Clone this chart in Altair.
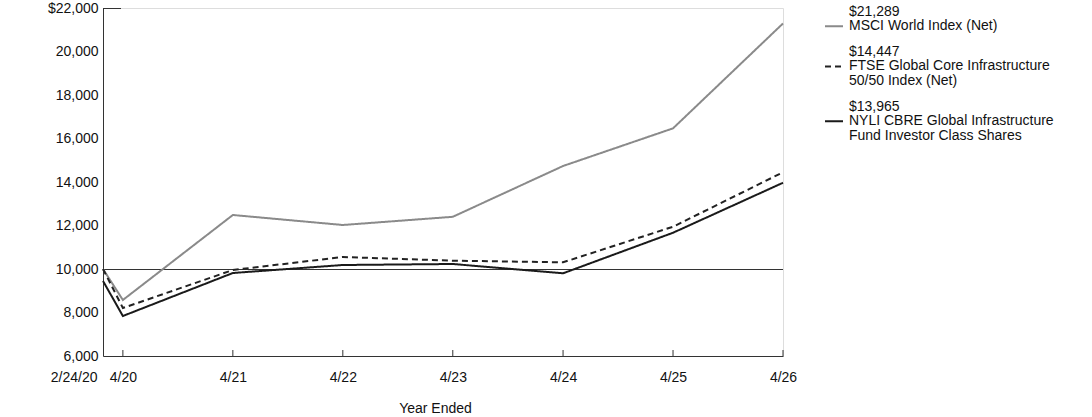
import altair as alt
import pandas as pd

# ---- data ----
dates = ["2020-02-24", "2020-04-30", "2021-04-30", "2022-04-30",
         "2023-04-30", "2024-04-30", "2025-04-30", "2026-04-30"]
tick_labels = ["2/24/20", "4/20", "4/21", "4/22", "4/23", "4/24", "4/25", "4/26"]

msci = [10000, 8575, 12483, 12023, 12400, 14736, 16467, 21289]
ftse = [10000, 8207, 9954, 10552, 10382, 10308, 11943, 14447]
nyli = [9450, 7839, 9816, 10184, 10230, 9802, 11667, 13965]

series_names = ["MSCI World Index (Net)",
                "FTSE Global Core Infrastructure 50/50 Index (Net)",
                "NYLI CBRE Global Infrastructure Fund Investor Class Shares"]
legend_lines = [["MSCI World Index (Net)"],
                ["FTSE Global Core Infrastructure", "50/50 Index (Net)"],
                ["NYLI CBRE Global Infrastructure", "Fund Investor Class Shares"]]
series_colors = ["#8a8a8a", "#222222", "#1a1a1a"]
series_dashes = [[1, 0], [6, 4], [1, 0]]
y_ticks = [6000, 8000, 10000, 12000, 14000, 16000, 18000, 20000, 22000]
baseline_value = 10000

# ---- build tables ----
d = pd.to_datetime(dates)
days = [(x - d[0]).days for x in d]
rows = []
for name, vals in zip(series_names, [msci, ftse, nyli]):
    for dd, v in zip(days, vals):
        rows.append({"day": dd, "value": v, "series": name})
df = pd.DataFrame(rows)

label_expr = "''"
for dd, lab in reversed(list(zip(days, tick_labels))):
    label_expr = f"datum.value == {dd} ? '{lab}' : ({label_expr})"

FONT = "Liberation Sans"
FS = 14
W, H = 680, 348

xscale = alt.Scale(domain=[0, days[-1]], nice=False, zero=False)
yscale = alt.Scale(domain=[y_ticks[0], y_ticks[-1]], nice=False, zero=False)

lines = alt.Chart(df).mark_line(strokeWidth=2).encode(
    x=alt.X("day:Q", scale=xscale,
            axis=alt.Axis(values=days, labelExpr=label_expr, ticks=False, grid=False,
                          labelAlign=alt.condition("datum.value == 0", alt.value("right"), alt.value("center")),
                          labelOffset=alt.condition("datum.value == 0", alt.value(-6), alt.value(0)),
                          title="Year Ended", titlePadding=17, labelPadding=14,
                          titleX=332, titleAlign="center",
                          domainColor="#333333", labelColor="#111111",
                          titleColor="#111111", titleFontWeight="normal",
                          labelFontSize=FS, titleFontSize=FS, labelFont=FONT,
                          titleFont=FONT, labelFlush=False, labelOverlap=False)),
    y=alt.Y("value:Q", scale=yscale,
            axis=alt.Axis(values=y_ticks, ticks=False, grid=False, title=None,
                          labelExpr="datum.value == 22000 ? '$22,000' : format(datum.value, ',')",
                          labelPadding=5, domainColor="#333333", labelColor="#111111",
                          labelFontSize=FS, labelFont=FONT)),
    color=alt.Color("series:N", scale=alt.Scale(domain=series_names, range=series_colors), legend=None),
    strokeDash=alt.StrokeDash("series:N", scale=alt.Scale(domain=series_names, range=series_dashes), legend=None),
    order=alt.Order("day:Q"),
)

base_rule = alt.Chart(pd.DataFrame({"v": [baseline_value]})).mark_rule(
    color="#333333", strokeWidth=1, yOffset=0.5).encode(y=alt.Y("v:Q", scale=yscale))

top_rule = alt.Chart(pd.DataFrame({"v": [y_ticks[-1]]})).mark_rule(
    color="#333333", strokeWidth=1, yOffset=0.5).encode(
    y=alt.Y("v:Q", scale=yscale), x=alt.value(0), x2=alt.value(18))

tick_df = pd.DataFrame({"day": days[1:]})
x_ticks = alt.Chart(tick_df).mark_rule(color="#333333", strokeWidth=1).encode(
    x=alt.X("day:Q", scale=xscale), y=alt.value(H), y2=alt.value(H - 6))

# ---- manual legend ----
LH = 14.5
GAP = 11.3
top0 = -3.5
leg_rows = []
top = top0
for name, vals, lns in zip(series_names, [msci, ftse, nyli], legend_lines):
    txt = "\n".join([f"${vals[-1]:,}"] + lns)
    leg_rows.append({"series": name, "text": txt, "ty": top, "sy": top + LH * 1.5})
    top += (len(lns) + 1) * LH + GAP
leg = pd.DataFrame(leg_rows)

leg_text = alt.Chart(leg).mark_text(
    align="left", baseline="top", font=FONT, fontSize=FS, lineBreak="\n",
    lineHeight=LH, color="#111111").encode(
    x=alt.value(W + 66), y=alt.Y("ty:Q", scale=None), text="text:N")

leg_sym = alt.Chart(leg).mark_rule(strokeWidth=2).encode(
    x=alt.value(W + 42), x2=alt.value(W + 60), y=alt.Y("sy:Q", scale=None),
    color=alt.Color("series:N", scale=alt.Scale(domain=series_names, range=series_colors), legend=None),
    strokeDash=alt.StrokeDash("series:N", scale=alt.Scale(domain=series_names, range=series_dashes), legend=None),
)

chart = alt.layer(base_rule, top_rule, x_ticks, lines, leg_sym, leg_text).properties(
    width=W, height=H,
    padding={"left": 103, "top": 8, "right": 309, "bottom": 61},
    autosize=alt.AutoSizeParams(type="none"),
).configure_view(stroke=None).configure(font=FONT, background="white")

chart.save("out.html", embed_options={"renderer": "svg", "actions": False})
